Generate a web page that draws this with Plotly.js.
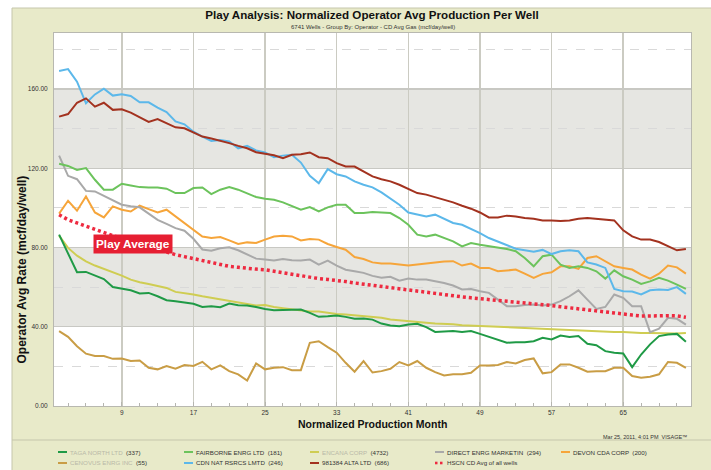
<!DOCTYPE html>
<html>
<head>
<meta charset="utf-8">
<script src="https://cdn.plot.ly/plotly-3.0.1.min.js"></script>
<style>html,body{margin:0;padding:0;background:#fff;}#chart{width:711px;height:470px;}</style>
</head>
<body>
<div id="chart"></div>
<script>
// ---------- DATA ----------
var months = [2,3,4,5,6,7,8,9,10,11,12,13,14,15,16,17,18,19,20,21,22,23,24,25,26,27,28,29,30,31,32,33,34,35,36,37,38,39,40,41,42,43,44,45,46,47,48,49,50,51,52,53,54,55,56,57,58,59,60,61,62,63,64,65,66,67,68,69,70,71,72];

var tagaNorth = [86.5,77.2,67.5,67.7,66,64.1,60.1,59.1,58.4,
  56.8,57.1,55.4,53.4,52.9,52.4,51.6,50,50.4,49.9,
  51.7,50.9,50.7,50,49,48.4,48.4,48.7,48.7,47,
  45,45.3,45.7,45,44,44.2,43.6,41.6,40.6,40.3,
  41.1,41.5,39.8,37.4,37.6,37.8,37.4,37.8,36.4,34.8,
  33.2,31.9,32.2,32.2,32.7,34.4,33.6,35.6,34.8,35.3,
  31.4,30.7,27.7,26.9,26.5,19.6,26,31.1,35.3,36.1,
  36.4,32.4];
var fairborne = [122.3,121.2,119.2,120.1,114.2,109.2,109.2,112.2,111.3,
  110.5,110.3,110.3,109.7,107.5,107.5,110,110.3,107,109.2,
  110.5,109.2,107.5,105.5,104.6,104.1,102.8,100.8,99.1,100.4,
  98.2,100.3,101.6,101.6,97.4,97.4,97.9,97.7,97.4,94.9,
  91.5,86.5,85.6,86.5,84.8,83.1,80.6,82.3,81.4,80.6,
  79.8,79.3,78.1,74.7,70.5,75.6,76.4,71.4,69.7,70.5,
  69.7,68,64.3,68.5,65.5,63.8,61.6,62.9,64.7,63.3,
  61.3,59.1];
var encana = [86,79.8,75.9,73,70.9,69.2,67.7,65.8,63.8,
  62.5,61.6,60.5,59.6,57.6,57.1,56.3,55.4,54.6,53.7,
  53.1,52.1,51.2,50.7,51,50,49.4,48.9,48.2,47.7,
  47.7,47,46.5,46.2,45.8,45.3,45.1,44.5,43.7,43.2,
  42.7,42.5,42,41.6,41.5,41.3,40.8,40.6,40.1,40,
  39.8,39.6,39.3,39.1,39,38.8,38.5,38.3,38.1,38,
  37.8,37.6,37.6,37.3,37.4,37.1,36.9,36.9,36.8,36.6,
  36.6,36.9];
var directEnrg = [126.4,116.2,114.5,108.6,108.3,106.1,104.1,101.6,100.8,
  100.3,97.1,94,91.9,89.8,88.5,84.4,79,78.4,79.6,
  80.1,78.6,76.4,74.4,73.9,73.4,74.2,73.6,73.4,73.9,
  71.4,73.4,70.9,68.8,68,67.2,65.7,64.7,65.2,63.3,
  64.3,63.8,63.8,63,62.1,60.8,58.8,59.1,57.9,57.1,
  53.7,50.4,50.4,51,51.2,50.7,51.2,52.9,55.4,58.4,
  53.7,49,50,56.3,54.6,50.4,50.4,37.3,39,44.5,
  44,41.1];
var devon = [97.1,103.6,98.6,105.8,97.7,95.2,100.8,99.1,98.2,
  101.1,99.4,97.7,99.1,95.7,92.4,89,85.6,84.8,85.3,
  83.6,81.8,82.6,82.3,84,85.6,85.9,85.6,83.6,84.3,
  84,81.8,80.3,78.9,75.2,74.2,72.5,71.9,71.9,71.4,
  70.9,71.4,71.9,72.5,72.9,73.1,70.9,71.9,69.7,69.7,
  68,68.4,68.9,66.8,64.7,66.7,67.5,70.5,70.5,69.2,
  74.7,75.6,73.1,70.5,69.7,68.9,66.3,64.3,66.8,70.9,
  70,66.8];
var cenovus = [37.8,34.9,30.2,26.4,25.2,25.2,23.8,24,22.7,
  23,19.3,18.5,20.2,18.8,20.7,20.2,22.3,18.5,20.5,
  17.6,16,12.9,21.5,18.5,19.3,19.6,18.1,18.1,31.9,
  32.7,29.7,26.9,21.8,17.3,22.7,16.9,17.6,18.8,22.2,
  20.5,22.7,19.3,17.1,15.4,16,16,16.8,20.5,20.5,
  20.7,22.2,21.5,23.2,24,16.5,17.1,21,21,19.3,
  17.3,17.5,17.6,19.3,19.3,15.1,14.3,14.8,16,22.2,
  21.8,19.3];
var cdnNat = [169.1,170.1,163.7,152.8,157.3,160.2,156.7,157.4,156.5,
  153.3,153.3,150.6,148.4,143.7,142.2,138.5,136,133.8,134.3,
  133.5,130.1,131.3,129,128,125.6,126.4,126.8,122.9,116.2,
  112.5,119.6,117,115.9,113.4,111.7,110.4,107.8,104.5,101.6,
  97.7,96.6,95.7,96.6,94.4,92.4,91.5,89.5,87.3,84.8,
  83.1,81.1,79.4,78.6,77.9,78.8,76.7,78.1,78.6,78.1,
  72.5,71.4,69.7,59.1,57.9,57.8,56.3,58.4,58.8,58.6,
  60,56.6];
var alta981384 = [146.1,147.4,153.1,155.3,151.1,153.1,149.5,149.8,148.1,
  145.8,143.4,144.9,142.7,140.7,140.2,138,136,135,134,
  132.7,131.3,130.1,128.1,127.3,126.6,125.1,126.8,127.1,128,
  125.6,125.1,122.6,120.9,120.9,118.4,115.9,114.5,113.4,111.7,
  109.7,107.5,106.7,105.5,104.1,102.8,101.1,99.6,97.7,95.2,
  95.2,96.1,95.7,94.9,94.5,93.7,93.7,93.4,93.7,94.5,
  94.9,94.5,94,93.7,88.7,85.6,84,84,82.8,80.9,
  78.6,79.3];
var playAvg = [96.6,94,92.4,90.7,89,87.3,86,84.6,83.2,
  81.8,80.5,78.8,77.5,76.4,75.4,74.4,73.5,72.6,71.7,
  70.5,70,69.4,69.1,68.8,68,67.3,66.6,65.5,64.9,
  64.3,63.9,63.5,62.8,62.1,61.5,60.9,60.3,59.7,59,
  58.3,57.8,57.2,56.6,56,55.6,55.1,54.6,54.2,53.7,
  53.3,52.8,52.4,51.9,51.4,51,50.7,50.1,49.5,48.9,
  48.3,47.9,47.5,47,46.3,45.9,45.4,45.6,45.7,45.6,
  45.5,44.8];

var seriesNames = ["TAGA NORTH LTD", "FAIRBORNE ENRG LTD", "ENCANA CORP", "DIRECT ENRG MARKETIN", "DEVON CDA CORP",
                   "CENOVUS ENRG INC", "CDN NAT RSRCS LMTD", "981384 ALTA LTD", "HSCN CD Avg of all wells"];
var wellCounts = ["(337)", "(181)", "(4732)", "(294)", "(200)", "(55)", "(246)", "(686)", ""];
var seriesValues = [tagaNorth, fairborne, encana, directEnrg, devon, cenovus, cdnNat, alta981384, playAvg];
var xTickVals = [9, 17, 25, 33, 41, 49, 57, 65];
var yTickVals = [0, 40, 80, 120, 160];

// ---------- STYLE ----------
var colors = ["#1f9a46", "#6cc35c", "#cfcd52", "#a9a9a9", "#f6a53a", "#c99d45", "#5cb8ea", "#a3321f", "#ee2a40"];
var blurred = [true, false, true, false, false, true, false, false, false];
var FONT = "Liberation Sans, Arial, sans-serif";
var BEIGE = "#e8eac9";
var FRAME = "#c5c6ac";

// plot area pixel geometry
var L = 54, R = 691, T = 33, B = 406, W = 711, H = 470;
function px2x(p) { return (p - L) / (R - L); }
function py2y(p) { return (B - p) / (B - T); }

var traces = [];
var drawOrder = [5, 2, 0, 4, 3, 1, 6, 7, 8];
drawOrder.forEach(function (i) {
  var isAvg = i === 8;
  traces.push({
    type: "scatter", mode: "lines", x: months, y: seriesValues[i], name: seriesNames[i],
    line: isAvg ? {color: colors[i], width: 3.5, dash: "3px,3px"} : {color: colors[i], width: 2},
    hoverinfo: "skip", showlegend: false
  });
});

var shapes = [
  {type: "rect", xref: "paper", yref: "paper", x0: px2x(0), x1: px2x(12), y0: py2y(H), y1: py2y(0), fillcolor: "#ffffff", line: {width: 0}, layer: "below"},
  {type: "rect", xref: "paper", yref: "paper", x0: px2x(0), x1: px2x(W), y0: py2y(8), y1: py2y(0), fillcolor: "#ffffff", line: {width: 0}, layer: "below"},
  {type: "line", xref: "paper", yref: "paper", x0: px2x(12), x1: px2x(12), y0: py2y(H), y1: py2y(8), line: {color: FRAME, width: 1}},
  {type: "line", xref: "paper", yref: "paper", x0: px2x(12), x1: px2x(W), y0: py2y(8), y1: py2y(8), line: {color: FRAME, width: 1}},
  {type: "line", xref: "paper", yref: "paper", x0: px2x(12), x1: px2x(W), y0: py2y(440), y1: py2y(440), line: {color: FRAME, width: 1}},
  {type: "rect", xref: "paper", yref: "y", x0: 0, x1: 1, y0: 40, y1: 80, fillcolor: "#e6e6e2", line: {width: 0}, layer: "below"},
  {type: "rect", xref: "paper", yref: "y", x0: 0, x1: 1, y0: 120, y1: 160, fillcolor: "#e6e6e2", line: {width: 0}, layer: "below"}
];

var annotations = [
  {xref: "paper", yref: "paper", x: 0.5, y: py2y(27), text: "6741 Wells - Group By: Operator - CD Avg Gas (mcf/day/well)",
   showarrow: false, font: {family: FONT, size: 6, color: "#333"}, xanchor: "center", yanchor: "middle"},
  {xref: "paper", yref: "paper", x: 0.5, y: py2y(424), text: "<b>Normalized Production Month</b>",
   showarrow: false, font: {family: FONT, size: 10.5, color: "#111"}, xanchor: "center", yanchor: "middle"},
  {xref: "paper", yref: "paper", x: px2x(21.5), y: py2y(270), text: "<b>Operator Avg Rate (mcf/day/well)</b>", textangle: -90,
   showarrow: false, font: {family: FONT, size: 12, color: "#111"}, xanchor: "center", yanchor: "middle"},
  {xref: "paper", yref: "paper", x: px2x(690), y: py2y(436.5), text: "Mar 25, 2011, 4:01 PM  VISAGE\u2122",
   showarrow: false, font: {family: FONT, size: 5.5, color: "#333"}, xanchor: "right", yanchor: "middle"},
  {xref: "x", yref: "y", x: 10.3, y: 82, text: "<b>Play Average</b>", showarrow: false,
   bgcolor: "#e61f32", borderpad: 2, font: {family: FONT, size: 11.8, color: "#ffffff"}, xanchor: "center", yanchor: "middle"}
];

var legCols = [58, 184, 310, 435, 561];
var legRows = [452, 463];
seriesNames.forEach(function (name, i) {
  var col = legCols[i % 5], row = legRows[Math.floor(i / 5)];
  var isAvg = i === 8;
  if (isAvg) {
    shapes.push({type: "rect", xref: "paper", yref: "paper", x0: px2x(col), x1: px2x(col + 2.5), y0: py2y(row + 1.3), y1: py2y(row - 1.3), fillcolor: colors[i], line: {width: 0}});
    shapes.push({type: "rect", xref: "paper", yref: "paper", x0: px2x(col + 5), x1: px2x(col + 7.5), y0: py2y(row + 1.3), y1: py2y(row - 1.3), fillcolor: colors[i], line: {width: 0}});
  } else {
    shapes.push({type: "line", xref: "paper", yref: "paper", x0: px2x(col), x1: px2x(col + 9), y0: py2y(row), y1: py2y(row), line: {color: colors[i], width: 2}});
  }
  var label = blurred[i]
    ? '<span style="color:#b9b9a8">' + name + '</span>  ' + wellCounts[i]
    : name + (wellCounts[i] ? "  " + wellCounts[i] : "");
  annotations.push({xref: "paper", yref: "paper", x: px2x(col + 10), y: py2y(row), text: label, showarrow: false,
    font: {family: FONT, size: 6.2, color: "#333"}, xanchor: "left", yanchor: "middle"});
});

var layout = {
  width: W, height: H,
  margin: {l: L, r: W - R, t: T, b: H - B, pad: 0},
  paper_bgcolor: BEIGE, plot_bgcolor: "#ffffff",
  showlegend: false,
  title: {text: "<b>Play Analysis: Normalized Operator Avg Production Per Well</b>", font: {family: FONT, size: 11.6, color: "#111"},
          x: 372 / W, xanchor: "center", y: 1 - 15 / H, yanchor: "middle", xref: "container", yref: "container"},
  xaxis: {range: [1.43, 72.57], tickmode: "array", tickvals: xTickVals, ticks: "inside", ticklen: 4, tickcolor: "#b5b5b0",
          showgrid: true, gridcolor: "#cbcbc2", gridwidth: 1.5, zeroline: false, showline: true, linecolor: "#b8b8b0", linewidth: 1, mirror: true,
          tickfont: {family: FONT, size: 6.5, color: "#333"},
          minor: {tickmode: "linear", tick0: 1, dtick: 2, ticks: "inside", ticklen: 3, tickcolor: "#b5b5b0", showgrid: false}},
  yaxis: {range: [0, 188.3], tickmode: "array", tickvals: yTickVals, tickformat: ".2f", ticks: "", showgrid: true, gridcolor: "#c8c8c3", gridwidth: 1.2,
          zeroline: false, showline: true, linecolor: "#b8b8b0", linewidth: 1, mirror: true, ticklabelstandoff: 4,
          tickfont: {family: FONT, size: 6.5, color: "#333"},
          minor: {tickmode: "linear", tick0: 0, dtick: 20, ticks: "", showgrid: true, gridcolor: "#d9d9d9", griddash: "dash", gridwidth: 1}},
  shapes: shapes,
  annotations: annotations
};

Plotly.newPlot("chart", traces, layout, {staticPlot: true, displayModeBar: false});
</script>
</body>
</html>
